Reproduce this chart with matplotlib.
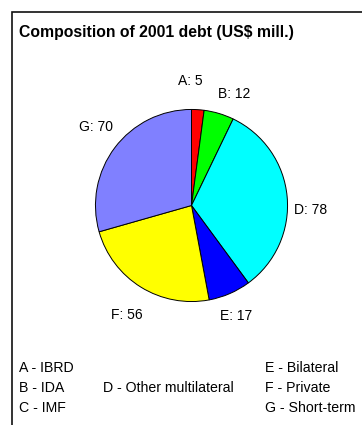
import numpy as np
import matplotlib
matplotlib.use("Agg")
import matplotlib.pyplot as plt
from matplotlib.patches import Rectangle

plt.rcParams['font.family'] = ['Liberation Sans', 'DejaVu Sans']

# Debt composition, US$ million
codes = ['A', 'B', 'C', 'D', 'E', 'F', 'G']
names = ['IBRD', 'IDA', 'IMF', 'Other multilateral', 'Bilateral', 'Private', 'Short-term']
values = [5, 12, 0, 78, 17, 56, 70]
colors = ['#FF0000', '#00FF00', '#FF00FF', '#00FFFF', '#0000FF', '#FFFF00', '#8080FF']

# small nudges so the slice labels don't collide (axes data units)
label_nudge = {'A': (-0.10, 0.05), 'B': (0.09, -0.04), 'D': (0.0, -0.16),
               'E': (-0.035, 0.0), 'F': (-0.015, -0.08), 'G': (0.0, 0.06)}

W, H = 362, 425
fig = plt.figure(figsize=(W / 100, H / 100), dpi=100)

# frame around the chart area (runs off the right and bottom edges)
fig.patches.append(Rectangle((12 / W, -0.05), 1.2, 1 - 11.5 / H + 0.05,
                             transform=fig.transFigure, fill=False,
                             edgecolor='#111111', linewidth=1.2))

fig.text(19 / W, 1 - 33 / H, 'Composition of 2001 debt (US$ mill.)',
         fontsize=11.3, fontweight='bold', ha='left', va='center')

# pie: skip zero-valued slices
shown = [i for i, v in enumerate(values) if v > 0]
cx, cy, r = 191.5, 205.5, 97
ax = fig.add_axes([(cx - r) / W, (H - cy - r) / H, 2 * r / W, 2 * r / H])
wedges, texts = ax.pie([values[i] for i in shown],
                       colors=[colors[i] for i in shown],
                       labels=[f'{codes[i]}: {values[i]}' for i in shown],
                       startangle=90, counterclock=False, radius=1,
                       labeldistance=1.25,
                       wedgeprops=dict(edgecolor='black', linewidth=0.7),
                       textprops=dict(fontsize=10))
for i, t in zip(shown, texts):
    x, y = t.get_position()
    dx, dy = label_nudge.get(codes[i], (0, 0))
    t.set_position((x + dx, y + dy))
    t.set_ha('center')
    t.set_va('center')
ax.set_xlim(-1.01, 1.01)
ax.set_ylim(-1.01, 1.01)
ax.set_aspect('equal')
ax.axis('off')

# legend text block
col_x = [19, 103, 265]
row_y = [368, 388, 408]
slots = {'A': (0, 0), 'B': (0, 1), 'C': (0, 2), 'D': (1, 1),
         'E': (2, 0), 'F': (2, 1), 'G': (2, 2)}
for code, name in zip(codes, names):
    c, rr = slots[code]
    fig.text(col_x[c] / W, 1 - row_y[rr] / H, f'{code} - {name}',
             fontsize=10.2, ha='left', va='center')

fig.savefig('out.png', dpi=100)
